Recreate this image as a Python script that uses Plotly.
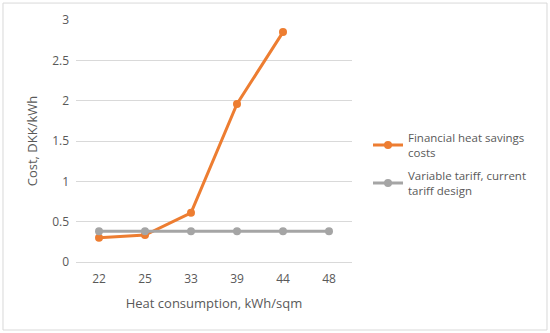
import plotly.graph_objects as go

categories = ["22", "25", "33", "39", "44", "48"]
financial_costs = [0.30, 0.335, 0.61, 1.96, 2.85, None]
variable_tariff = [0.38, 0.38, 0.38, 0.38, 0.38, 0.38]
series_names = ["Financial heat savings<br>costs", "Variable tariff, current<br>tariff design"]

FONT = "Open Sans"
TXT = "#595959"

fig = go.Figure()
fig.add_trace(go.Scatter(x=categories, y=financial_costs, mode="lines+markers",
                         name=series_names[0], legendgroup="a",
                         line=dict(color="#ED7D31", width=3),
                         marker=dict(color="#ED7D31", size=8)))
fig.add_trace(go.Scatter(x=categories, y=variable_tariff, mode="lines+markers",
                         name=series_names[1], legendgroup="b",
                         line=dict(color="#A5A5A5", width=3),
                         marker=dict(color="#A5A5A5", size=8)))

fig.update_layout(
    width=550, height=333,
    margin=dict(l=76, r=198, t=20, b=71, autoexpand=False),
    paper_bgcolor="white", plot_bgcolor="white",
    font=dict(family=FONT, color=TXT, size=12),
    showlegend=True,
    legend=dict(x=1.058, y=0.572, xanchor="left", yanchor="top",
                font=dict(family=FONT, size=11.5, color=TXT),
                tracegroupgap=5, bgcolor="rgba(0,0,0,0)"),
    xaxis=dict(type="category", range=[-0.5, 5.5], showgrid=False, showline=False,
               automargin=False, ticklabelstandoff=8,
               ticks="", ticklen=0, tickfont=dict(size=12, color=TXT),
               title=dict(text="Heat consumption, kWh/sqm", font=dict(size=13, color=TXT), standoff=12)),
    yaxis=dict(range=[0, 3], dtick=0.5, showgrid=True, gridcolor="#D9D9D9", gridwidth=1,
               zeroline=True, zerolinecolor="#D9D9D9", zerolinewidth=1,
               automargin=False,
               showline=False, ticks="", tickfont=dict(size=12, color=TXT),
               ticklabelstandoff=6,
               title=dict(text="Cost, DKK/kWh", font=dict(size=13, color=TXT), standoff=11)),
)
fig.add_shape(type="rect", xref="paper", yref="paper",
              x0=-0.2645, x1=1.7065, y0=-0.281, y1=1.070,
              line=dict(color="#D9D9D9", width=1), fillcolor="rgba(0,0,0,0)", layer="below")

fig.write_html("out.html", post_script="document.body.style.margin='0';",
               config={"displayModeBar": False})
